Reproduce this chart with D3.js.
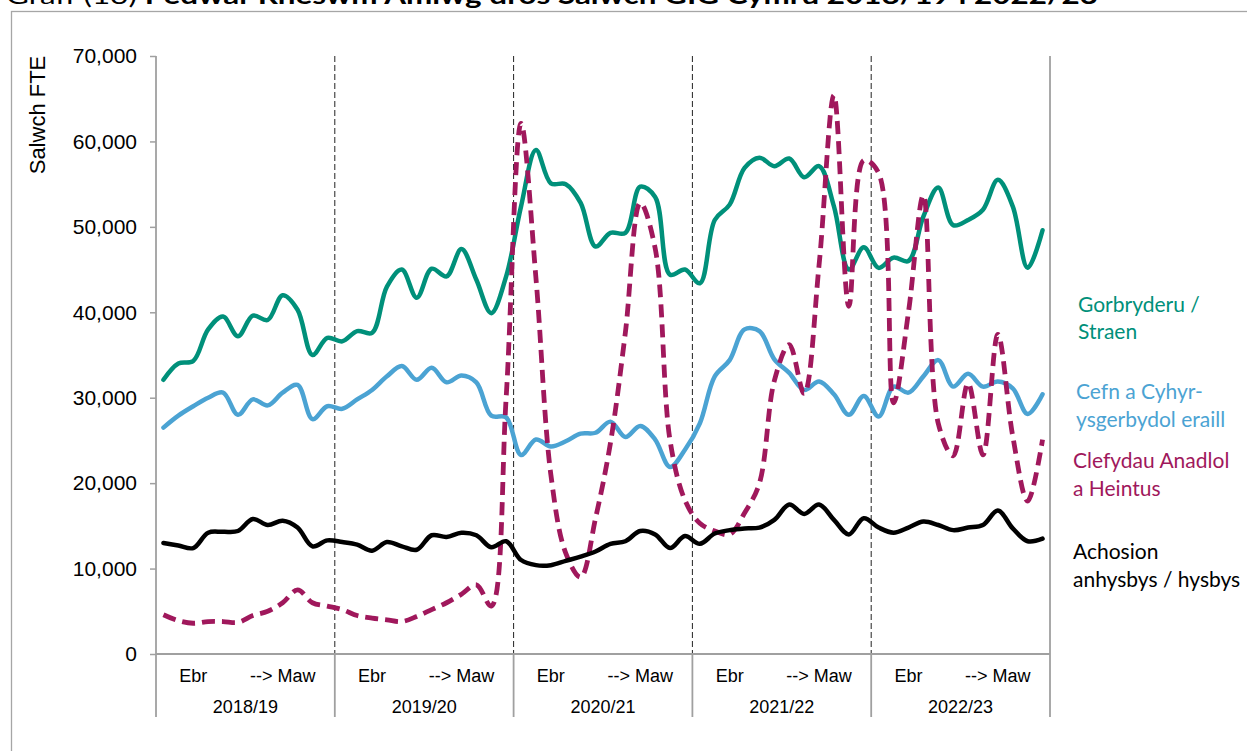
<!DOCTYPE html>
<html><head><meta charset="utf-8">
<script src="https://cdn.jsdelivr.net/npm/d3@7"></script>
<style>body{margin:0;background:#fff;} svg{display:block}</style>
</head><body><svg id="c" width="1247" height="751"></svg>
<script>
// ---- data ----
const years = ["2018/19","2019/20","2020/21","2021/22","2022/23"];
const monthLabels = ["","","Ebr","","","","","","--> Maw","","",""];
const yTicks = [0,10000,20000,30000,40000,50000,60000,70000];
const titleStart = "Graff (13) ";
const titleRest = "Pedwar Rheswm Amlwg dros Salwch GIG Cymru 2018/19 i 2022/23";
const yAxisTitle = "Salwch FTE";

const gorbryderu = [
32100,34000,34300,38000,39500,37200,39600,39100,42000,40300,35000,37000,
36600,37800,37600,43000,45000,41700,45100,44200,47400,43800,39900,44200,
52400,59000,55100,55000,52800,47700,49300,49300,54700,53500,44400,45000,
43400,50800,52600,56900,58100,57100,58000,55800,57100,52400,45000,47600,
45200,46400,46000,51200,54600,50200,50800,52000,55500,52400,45200,49600];
const cefn = [
26500,27900,29000,30000,30600,28000,29800,29100,30600,31500,27500,29000,
28700,29800,30900,32500,33700,32100,33500,31800,32600,31800,27900,27700,
23300,25100,24300,24900,25800,25900,27200,25400,26700,25100,21900,23900,
27000,32500,34400,38000,37800,34500,32900,30900,31900,30400,28000,30200,
27800,31300,30600,32500,34400,31300,32800,31300,31900,31100,28100,30400];
const clefydau = [
4600,3900,3600,3800,3800,3700,4500,5000,6000,7500,6000,5600,
5200,4500,4200,4000,3800,4400,5200,6000,7000,8100,5600,30000,
62100,44000,21000,11800,9000,15900,24700,37600,52800,47500,25000,18000,
15300,14400,14000,16500,20000,32000,36200,30500,45500,65400,40700,57800,
56300,29400,40000,53700,27000,23200,31700,23300,37400,25500,17900,25100];
const achosion = [
13000,12700,12400,14200,14300,14400,15800,15100,15600,14800,12600,13300,
13100,12800,12100,13100,12600,12200,13900,13700,14200,13900,12500,13200,
11000,10400,10400,10900,11400,12000,12900,13200,14400,14000,12400,13800,
12900,14100,14500,14700,14800,15700,17500,16400,17500,15700,14000,15900,
14800,14200,14800,15500,15100,14500,14800,15100,16800,14700,13200,13500];

const series = [
  {name:["Gorbryderu /","Straen"], values:gorbryderu, color:"#00907a", dash:null, lx:1078, ly:311.5},
  {name:["Cefn a Cyhyr-","ysgerbydol eraill"], values:cefn, color:"#4ba3d3", dash:null, lx:1076, ly:399},
  {name:["Clefydau Anadlol","a Heintus"], values:clefydau, color:"#a0185c", dash:"13,7", lx:1073, ly:468},
  {name:["Achosion","anhysbys / hysbys"], values:achosion, color:"#000000", dash:null, lx:1073, ly:559}
];
const drawOrder = [0,1,2,3];

// ---- layout ----
const svg = d3.select("#c");
const L = 156, R = 1050, T = 56, B = 654, AXB = 717;
const idx = d3.range(years.length * 12);
const x = d3.scaleBand().domain(idx).range([L, R]).paddingInner(0).paddingOuter(0);
const xc = i => x(i) + x.bandwidth()/2;
const xy = d3.scaleBand().domain(years).range([L, R]);
const y = d3.scaleLinear().domain([0,70000]).range([B, T]);
const axisGray = "#a0a0a0";

// chart border
svg.append("rect").attr("x",11.5).attr("y",11.5).attr("width",1400).attr("height",900)
  .attr("fill","none").attr("stroke","#a6a6a6").attr("stroke-width",1.3);

// title (cut off at the top, as in the reference)
const tt = svg.append("text").attr("x",6).attr("y",4)
  .attr("font-family","Lato, 'Open Sans', sans-serif").attr("font-size",24).attr("fill","#000")
  .attr("textLength",1092).attr("lengthAdjust","spacingAndGlyphs");
tt.append("tspan").text(titleStart);
tt.append("tspan").attr("font-weight","bold").text(titleRest);

// dashed year dividers inside plot
svg.append("g").selectAll("line").data(years.slice(1)).join("line")
  .attr("x1", d => xy(d)).attr("x2", d => xy(d))
  .attr("y1", T).attr("y2", B)
  .attr("stroke","#222").attr("stroke-width",1).attr("stroke-dasharray","6,3");

// y axis
const ya = svg.append("g").attr("transform",`translate(${L},0)`)
  .call(d3.axisLeft(y).tickValues(yTicks).tickSize(6).tickSizeOuter(0).tickPadding(13).tickFormat(d3.format(",")));
ya.select(".domain").remove();
ya.selectAll(".tick line").attr("stroke",axisGray).attr("stroke-width",1.5);
ya.selectAll(".tick text").attr("font-family","'Liberation Sans', Arial, sans-serif").attr("font-size",21).attr("fill","#000");

// y axis title
svg.append("text").attr("transform",`translate(45,115) rotate(-90)`).attr("text-anchor","middle")
  .attr("font-family","'Liberation Sans', Arial, sans-serif").attr("font-size",22).attr("fill","#000").text(yAxisTitle);

// frame lines: left axis, right line, bottom axis, year separators below axis
const frame = svg.append("g").attr("stroke",axisGray).attr("stroke-width",1.8);
frame.append("line").attr("x1",L).attr("x2",L).attr("y1",T).attr("y2",AXB);
frame.append("line").attr("x1",R).attr("x2",R).attr("y1",T).attr("y2",AXB);
frame.append("line").attr("x1",L).attr("x2",R).attr("y1",B).attr("y2",B);
frame.selectAll(".sep").data(years.slice(1)).join("line")
  .attr("x1", d => xy(d)).attr("x2", d => xy(d)).attr("y1",B).attr("y2",AXB);

// month labels and year labels
const lab = svg.append("g").attr("font-family","'Liberation Sans', Arial, sans-serif").attr("font-size",18)
  .attr("fill","#000").attr("text-anchor","middle");
years.forEach((yr, yi) => {
  monthLabels.forEach((m, mi) => {
    if (m) lab.append("text").attr("x", xc(yi*12+mi)).attr("y", 681.5).text(m);
  });
  lab.append("text").attr("x", xy(yr) + xy.bandwidth()/2).attr("y", 712.5).text(yr);
});

// lines
const line = d3.line().x((d,i) => xc(i)).y(d => y(d)).curve(d3.curveCatmullRom.alpha(0.5));
const lg = svg.append("g");
drawOrder.forEach(k => {
  const s = series[k];
  lg.append("path").attr("d", line(s.values)).attr("fill","none")
    .attr("stroke", s.color).attr("stroke-width", s.dash ? 4.8 : 4.5)
    .attr("stroke-linejoin","round")
    .attr("stroke-linecap", s.dash ? "butt" : "round")
    .attr("stroke-dasharray", s.dash);
});

// legend labels
const leg = svg.append("g").attr("font-family","Lato, 'Open Sans', sans-serif").attr("font-size",21);
series.forEach(s => {
  s.name.forEach((t, j) => {
    leg.append("text").attr("x", s.lx).attr("y", s.ly + j*27.6).attr("fill", s.color).text(t);
  });
});
</script>
</body></html>
